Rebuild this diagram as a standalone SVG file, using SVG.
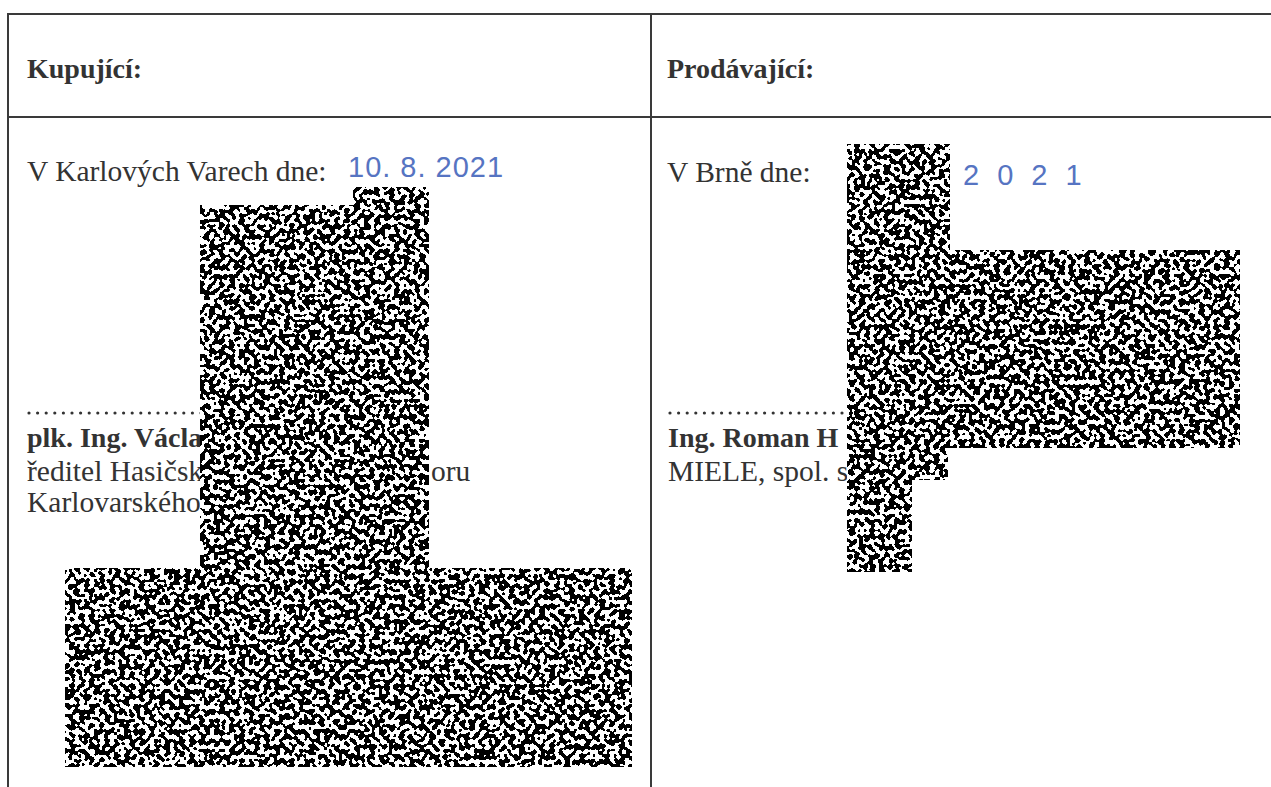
<svg xmlns="http://www.w3.org/2000/svg" width="1271" height="787" viewBox="0 0 1271 787">
  <style>
    .rule { stroke: #3a3a3a; stroke-width: 2; fill: none; }
    .t { font-family: "Liberation Serif", "Times New Roman", serif; font-size: 29.5px; fill: #333; }
    .b { font-weight: bold; font-size: 28px; }
    .hand { font-family: "Liberation Sans", Arial, sans-serif; font-size: 29px; fill: #5674c2; }
    .dots { stroke: #333; stroke-width: 3.2; stroke-linecap: round; stroke-dasharray: 0 8.6; fill: none; }
  </style>
  <defs>
    <filter id="nz" x="0" y="0" width="1" height="1" color-interpolation-filters="sRGB">
      <feTurbulence type="fractalNoise" baseFrequency="0.2" numOctaves="1" seed="7" result="t"/>
      <feColorMatrix in="t" type="matrix" values="0 0 0 0 0  0 0 0 0 0  0 0 0 0 0  1 0 0 0 0" result="a"/>
      <feComponentTransfer in="a" result="bw"><feFuncA type="discrete" tableValues="0 1"/></feComponentTransfer>
      <feComposite in="bw" in2="SourceAlpha" operator="in"/>
    </filter>
  </defs>
  <rect width="1271" height="787" fill="#fff"/>

  <g id="table">
    <line class="rule" x1="7" y1="14" x2="1271" y2="14"/>
    <line class="rule" x1="7" y1="117" x2="1271" y2="117"/>
    <line class="rule" x1="8" y1="13" x2="8" y2="787"/>
    <line class="rule" x1="651" y1="13" x2="651" y2="787"/>
  </g>

  <g id="buyer">
    <text class="t b" x="27" y="78">Kupující:</text>
    <text class="t" x="27" y="181">V Karlových Varech dne:</text>
    <text class="hand" x="348" y="177" letter-spacing="1">10. 8. 2021</text>
    <line class="dots" x1="29" y1="413" x2="205" y2="413"/>
    <text class="t b" x="27" y="447">plk. Ing. Václa</text>
    <text class="t" x="27" y="481">ředitel Hasičsk</text>
    <text class="t" x="431" y="481">oru</text>
    <text class="t" x="27" y="512">Karlovarského</text>
  </g>

  <g id="seller">
    <text class="t b" x="667" y="78">Prodávající:</text>
    <text class="t" x="667" y="182">V Brně dne:</text>
    <text class="hand" x="963" y="185" letter-spacing="18">2021</text>
    <line class="dots" x1="670" y1="413" x2="850" y2="413"/>
    <text class="t b" x="668" y="447">Ing. Roman H</text>
    <text class="t" x="668" y="481">MIELE, spol. s</text>
  </g>

  <g id="redactions">
    <path d="M200,205 H353 V187 H429 V568 H632 V767 H65 V568 H200 Z" fill="#fff"/>
    <path d="M200,205 H353 V187 H429 V568 H632 V767 H65 V568 H200 Z" fill="#000" filter="url(#nz)"/>
    <path d="M847,144 H950 V250 H1240 V448 H948 V480 H912 V572 H847 Z" fill="#fff"/>
    <path d="M847,144 H950 V250 H1240 V448 H948 V480 H912 V572 H847 Z" fill="#000" filter="url(#nz)"/>
  </g>
</svg>
